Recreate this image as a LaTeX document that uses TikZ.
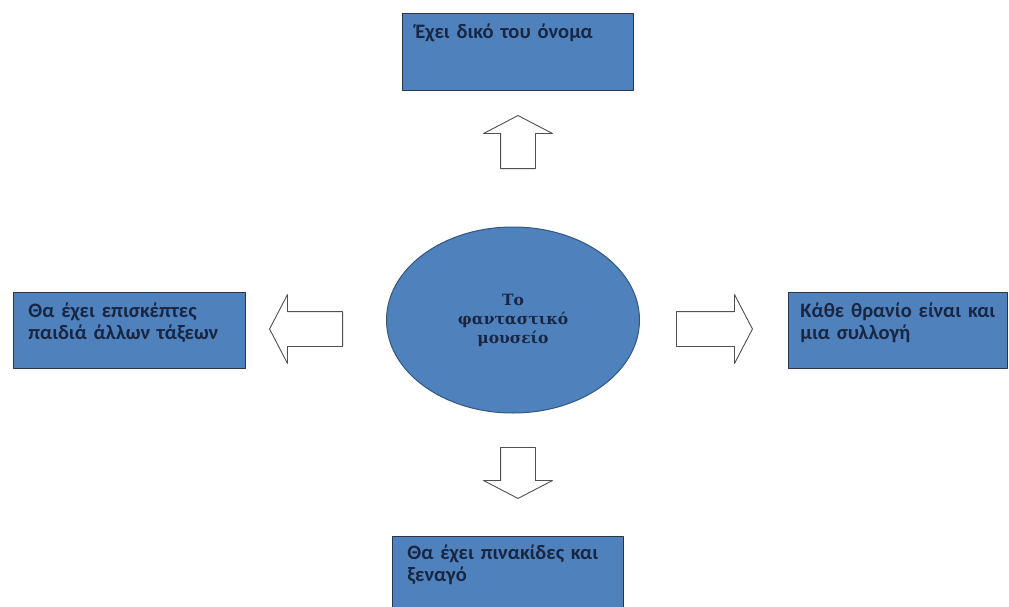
\documentclass[tikz,border=0pt]{standalone}
\usepackage{fontspec}
\setmainfont{Carlito}
\newfontfamily\titlefont{DejaVu Serif Bold}
\usetikzlibrary{shapes.geometric,shapes.arrows}

\definecolor{boxblue}{RGB}{79,129,189}
\definecolor{boxline}{RGB}{42,54,72}
\definecolor{ovalline}{RGB}{52,86,128}
\definecolor{inkblue}{RGB}{25,38,66}
\definecolor{arrowline}{RGB}{80,80,80}

\tikzset{
  boxnode/.style={draw=boxline, fill=boxblue, line width=0.9pt, inner ysep=0pt,
    align=left, anchor=north west, text=inkblue, font=\bfseries\fontsize{20.5}{22}\selectfont},
  blockarrow/.style={single arrow, draw=arrowline, fill=white, line width=0.9pt,
    inner xsep=0pt, inner ysep=17pt, minimum width=0pt, single arrow head extend=17pt,
    single arrow tip angle=125, anchor=tail}
}

\begin{document}
\begin{tikzpicture}[x=1pt,y=-1pt,line join=round]
  \useasboundingbox (0,0) rectangle (1009,607);
  % κέντρο
  \node[ellipse, draw=ovalline, fill=boxblue, line width=1pt, minimum width=253pt,
    minimum height=186pt, inner sep=0pt, align=center, text=inkblue,
    font=\titlefont\fontsize{15.5}{19}\selectfont] (museum) at (513,320)
    {Το\\φανταστικό\\μουσείο};
  % κουτιά
  \node[boxnode, text width=205pt, inner xsep=13pt, text height=25pt, text depth=52pt]
    (name) at (402,13) {Έχει δικό του όνομα};
  \node[boxnode, text width=202pt, inner xsep=15pt, text height=25pt, text depth=51pt]
    (visitors) at (13,292) {Θα έχει επισκέπτες\\παιδιά άλλων τάξεων};
  \node[boxnode, text width=195pt, inner xsep=12pt, text height=25pt, text depth=51pt]
    (desks) at (788,292) {Κάθε θρανίο είναι και\\μια συλλογή};
  \node[boxnode, text width=201pt, inner xsep=15pt, text height=23pt, text depth=100pt]
    (guide) at (392,536) {Θα έχει πινακίδες και\\ξεναγό};
  % βέλη
  \node[blockarrow, rotate=90, minimum height=53pt] (toname) at (518,169) {};
  \node[blockarrow, rotate=180, minimum height=73pt] (tovisitors) at (343,329) {};
  \node[blockarrow, minimum height=76pt] (todesks) at (676,329) {};
  \node[blockarrow, rotate=-90, minimum height=51pt] (toguide) at (518,447) {};
\end{tikzpicture}
\end{document}
